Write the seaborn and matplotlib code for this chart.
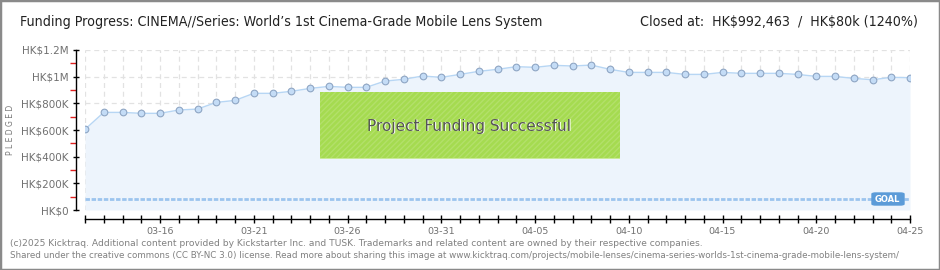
import matplotlib
matplotlib.use("Agg")
import matplotlib.pyplot as plt
import matplotlib.patches as mpatches
import matplotlib.ticker as mticker
import matplotlib.dates as mdates
import pandas as pd
import seaborn as sns

# ---- data -------------------------------------------------------------
dates = pd.date_range("2025-03-12", "2025-04-25", freq="D")
pledged = [605000, 732000, 732000, 725000, 725000, 750000, 757000, 807000,
           822000, 875000, 875000, 890000, 912000, 927000, 920000, 920000,
           967000, 980000, 1005000, 995000, 1017000, 1040000, 1055000,
           1075000, 1070000, 1085000, 1080000, 1087000, 1055000, 1032000,
           1032000, 1032000, 1017000, 1017000, 1032000, 1025000, 1025000,
           1025000, 1017000, 1002000, 1002000, 987000, 977000, 995000, 992463]
goal = 80000
closed_at = 992463
y_ticks = [0, 200000, 400000, 600000, 800000, 1000000, 1200000]
y_tick_labels = ["HK$0", "HK$200K", "HK$400K", "HK$600K", "HK$800K",
                 "HK$1M", "HK$1.2M"]
x_label_dates = ["03-16", "03-21", "03-26", "03-31", "04-05", "04-10",
                 "04-15", "04-20", "04-25"]

df = pd.DataFrame({"date": dates, "pledged": pledged})

# ---- figure -----------------------------------------------------------
sns.set_theme(style="white")
plt.rcParams["font.family"] = ["DejaVu Sans"]

W, H = 940, 270
fig = plt.figure(figsize=(W / 100, H / 100), dpi=100)
fig.patch.set_facecolor("white")


def fx(px):
    return px / W


def fy(py):
    return 1 - py / H


ax = fig.add_axes([fx(85), fy(210), fx(910) - fx(85), fy(50) - fy(210)])
ax.set_facecolor("none")

line_col = "#B7D6F4"
ax.fill_between(df["date"], df["pledged"], 0, color="#EDF4FC", zorder=1, lw=0)
sns.lineplot(data=df, x="date", y="pledged", ax=ax, color=line_col, lw=1.0,
             marker="o", markersize=4.8, markerfacecolor="#C4DCF6",
             markeredgecolor="#8FA6C4", markeredgewidth=0.8, zorder=4)

# goal line
ax.axhline(goal, color="#9CC4EE", lw=2.0, ls=(0, (1.6, 0.6)), zorder=3)

ax.set_xlim(dates[0], dates[-1])
ax.set_ylim(0, 1200000)

# ticks and grid
ax.set_yticks(y_ticks)
ax.set_yticklabels([s.replace("$", r"\$") for s in y_tick_labels])
ax.yaxis.set_minor_locator(mticker.MultipleLocator(100000))
ax.xaxis.set_major_locator(mdates.DayLocator())
label_set = set(x_label_dates)
ax.xaxis.set_major_formatter(mticker.FuncFormatter(
    lambda v, p: (lambda s: s if s in label_set else "")(
        mdates.num2date(v).strftime("%m-%d"))))
ax.grid(True, which="major", color="#E2E2E2", lw=0.9, ls=(0, (4, 3)), zorder=0)
ax.set_axisbelow(True)

for s in ["top", "right"]:
    ax.spines[s].set_visible(False)
for s in ["left", "bottom"]:
    ax.spines[s].set_color("black")
    ax.spines[s].set_linewidth(1.0)
    ax.spines[s].set_position(("outward", 6.5))

ax.tick_params(axis="y", which="major", direction="inout", length=5, width=1,
               color="black", labelsize=7.5, labelcolor="#707070", pad=3, left=True)
ax.tick_params(axis="y", which="minor", direction="out", length=4, width=1.0,
               color="#E02020", left=True)
ax.tick_params(axis="x", which="major", direction="inout", length=6, width=1,
               color="black", labelsize=6.8, labelcolor="#707070", pad=3, bottom=True)
ax.set_xlabel("")
ax.set_ylabel("")

fig.text(fx(11), fy(130), "P L E D G E D", rotation=90, ha="center", va="center",
         fontsize=5.5, color="#777777")

# title line
head_font = dict(fontsize=10.2, color="#222222", family="DejaVu Sans",
                 fontstretch="condensed")
fig.text(fx(20), fy(22), "Funding Progress: CINEMA//Series: World\u2019s 1st Cinema-Grade Mobile Lens System",
         ha="left", va="center", **head_font)
fig.text(fx(918), fy(22),
         "Closed at:  HK\\$" + f"{closed_at:,}" + "  /  HK\\$80k (1240%)",
         ha="right", va="center", **head_font)

# success banner
banner = mpatches.Rectangle((fx(320), fy(158)), fx(620) - fx(320), fy(92) - fy(158),
                            transform=fig.transFigure, facecolor="#A5DB50",
                            edgecolor="#B3E06A", hatch="//////", lw=0, zorder=5)
fig.patches.append(banner)
fig.patches.append(mpatches.Rectangle((fx(320), fy(159)), fx(620) - fx(320), 1.5 / H,
                                      transform=fig.transFigure, facecolor="#C9EA98",
                                      lw=0, zorder=5))
fig.text(fx(469) + 1 / W, fy(126) - 1 / H, "Project Funding Successful", ha="center",
         va="center", fontsize=11, color="white", zorder=6)
fig.text(fx(469), fy(126), "Project Funding Successful", ha="center",
         va="center", fontsize=11, color="#555555", zorder=7)

# goal badge
badge = mpatches.FancyBboxPatch((fx(872), fy(205)), fx(904) - fx(872), fy(193) - fy(205),
                                boxstyle="round,pad=0,rounding_size=0.004",
                                transform=fig.transFigure, facecolor="#5B9BD8",
                                edgecolor="#5B9BD8", lw=1, zorder=6)
fig.patches.append(badge)
fig.text(fx(887), fy(199), "GOAL", ha="center", va="center", fontsize=6,
         color="white", fontweight="bold", zorder=7)

# footer
foot_col = "#808080"
fig.text(fx(10), fy(243), "(c)2025 Kicktraq. Additional content provided by Kickstarter Inc. and TUSK. "
         "Trademarks and related content are owned by their respective companies.",
         ha="left", va="center", fontsize=6.6, color=foot_col)
fig.text(fx(10), fy(255), "Shared under the creative commons (CC BY-NC 3.0) license. Read more about sharing this image at "
         "www.kicktraq.com/projects/mobile-lenses/cinema-series-worlds-1st-cinema-grade-mobile-lens-system/",
         ha="left", va="center", fontsize=6.35, color=foot_col)

# outer frame
fig.patches.append(mpatches.Rectangle((0, 0), 1, 1, transform=fig.transFigure,
                                      fill=False, edgecolor="#8A8A8A", lw=2.5, zorder=10))

fig.savefig("out.png", dpi=100)
